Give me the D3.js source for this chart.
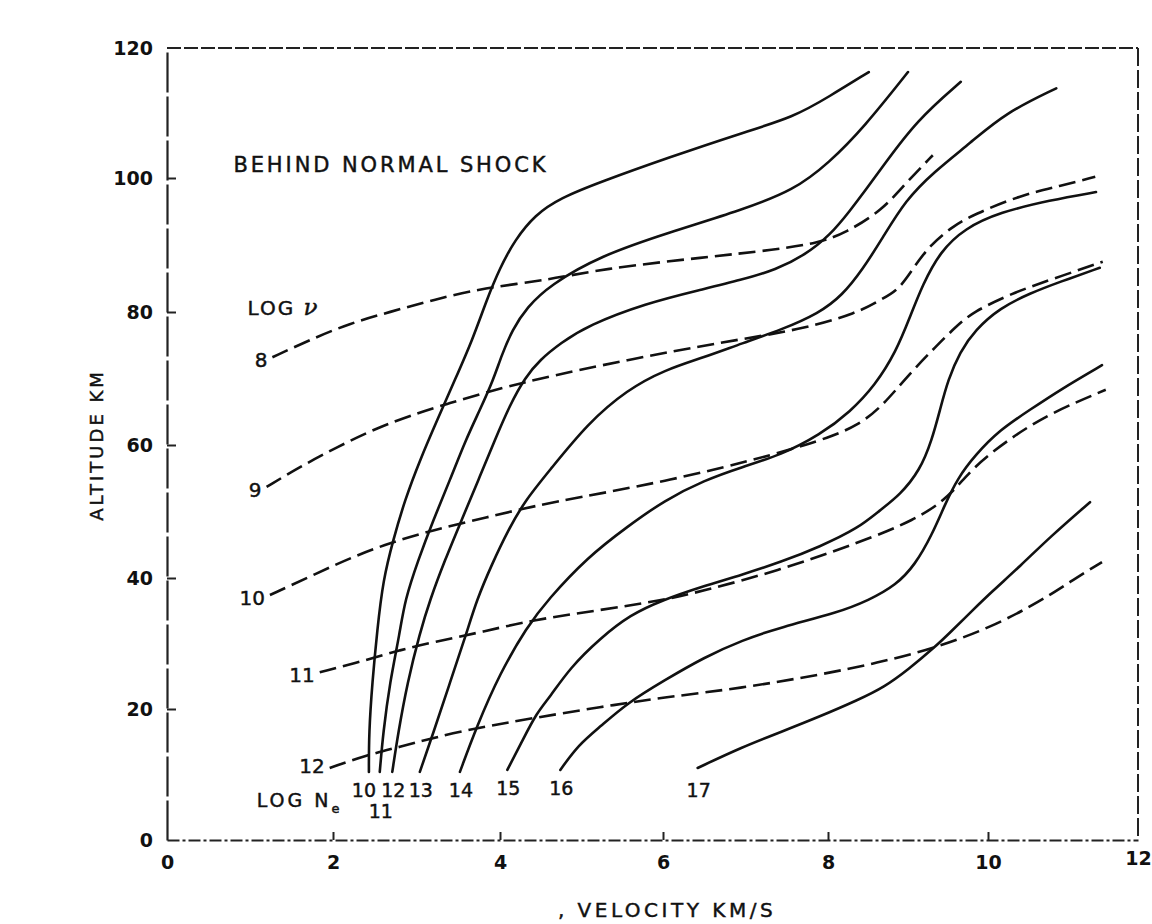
<!DOCTYPE html>
<html>
<head>
<meta charset="utf-8">
<script src="https://cdn.jsdelivr.net/npm/d3@7"></script>
<style>
  body { margin: 0; background: #fff; }
  text { font-family: "DejaVu Sans", sans-serif; fill: #111; }
  .label { stroke: #111; stroke-width: 0.45px; }
</style>
</head>
<body>
<div id="chart"></div>
<script>
// Axis ticks
const velocityTicks = [0, 2, 4, 6, 8, 10, 12];
const velocityLabels = ["0", "2", "4", "6", "8", "10", "12"];
const altitudeTicks = [0, 20, 40, 60, 80, 100, 120];

// Solid curves: log Ne, points are [velocity km/s, altitude km]
const ne10 = [[2.43,10.4],[2.43,16.3],[2.47,24.0],[2.53,32.1],[2.60,39.7],[2.72,45.7],[2.86,51.7],[3.04,57.7],[3.25,63.8],[3.46,69.8],[3.67,75.8],[3.84,81.8],[4.00,86.6],[4.18,90.7],[4.43,94.5],[4.74,97.0],[5.23,99.4],[6.08,103.2],[6.95,106.9],[7.59,109.4],[8.01,112.5],[8.51,116.3]];
const ne11 = [[2.56,10.4],[2.60,16.3],[2.68,24.0],[2.80,31.6],[2.86,36.6],[3.02,42.7],[3.20,48.7],[3.40,54.7],[3.59,60.8],[3.76,65.3],[3.92,69.8],[4.02,73.5],[4.15,77.3],[4.33,80.7],[4.61,84.0],[5.23,88.4],[6.08,91.9],[6.95,95.2],[7.59,98.2],[8.01,102.3],[8.45,107.8],[9.00,116.3]];
const ne12 = [[2.71,10.4],[2.78,16.3],[2.89,24.0],[3.04,31.6],[3.16,36.6],[3.34,42.7],[3.54,48.7],[3.74,54.7],[3.94,60.8],[4.12,66.0],[4.31,70.2],[4.49,72.8],[4.74,75.3],[5.08,78.0],[5.79,81.3],[6.45,83.3],[6.95,84.8],[7.37,86.3],[7.72,88.5],[8.03,91.5],[8.28,95.2],[8.47,98.2],[8.68,101.7],[9.11,108.9],[9.66,114.8]];
const ne13 = [[3.04,10.4],[3.20,16.3],[3.40,24.0],[3.60,31.6],[3.72,36.6],[3.90,42.0],[4.10,47.2],[4.31,51.7],[4.61,56.2],[5.08,63.3],[5.56,68.3],[6.02,71.3],[6.50,73.2],[6.96,75.3],[7.43,77.3],[7.89,79.8],[8.18,82.5],[8.43,86.3],[8.68,91.0],[8.97,96.7],[9.32,100.9],[9.78,105.4],[10.23,110.0],[10.91,113.8]];
const ne14 = [[3.52,10.4],[3.72,17.3],[4.00,25.5],[4.33,32.5],[4.58,36.6],[5.08,43.2],[5.56,47.7],[6.02,51.7],[6.50,54.7],[6.96,56.7],[7.43,58.5],[7.90,61.5],[8.28,65.0],[8.59,69.0],[8.85,74.0],[9.03,79.4],[9.18,84.0],[9.40,89.0],[9.71,92.5],[10.16,94.9],[10.83,96.7],[11.44,97.9]];
const ne15 = [[4.09,10.7],[4.28,15.3],[4.45,19.4],[4.61,21.8],[4.86,26.3],[5.23,30.8],[5.60,34.4],[5.99,36.6],[6.45,38.6],[6.96,40.5],[7.43,42.4],[7.90,44.7],[8.38,47.5],[8.65,50.2],[8.90,52.5],[9.15,56.2],[9.30,60.8],[9.40,65.3],[9.50,69.8],[9.65,74.0],[9.84,77.3],[10.16,80.6],[10.56,82.8],[10.96,84.5],[11.49,86.6]];
const ne16 = [[4.74,10.7],[4.96,14.5],[5.23,17.3],[5.56,20.9],[6.02,24.4],[6.50,27.9],[6.96,30.5],[7.43,32.5],[8.12,34.7],[8.51,36.6],[8.85,38.9],[9.09,42.0],[9.30,46.5],[9.46,51.0],[9.62,55.0],[9.84,58.5],[10.16,62.3],[10.56,65.3],[10.96,68.3],[11.52,72.0]];
const ne17 = [[6.42,11.0],[6.96,14.2],[7.43,16.5],[7.89,18.8],[8.38,21.4],[8.71,23.4],[9.00,26.0],[9.34,29.5],[9.52,31.6],[9.81,35.1],[10.05,37.9],[10.43,41.8],[10.83,46.2],[11.36,51.4]];
const neLevels = ["10", "11", "12", "13", "14", "15", "16", "17"];
const neCurves = [ne10, ne11, ne12, ne13, ne14, ne15, ne16, ne17];

// Dashed curves: log nu
const nu8 = [[1.27,73.2],[1.72,75.8],[2.20,78.3],[2.68,80.0],[3.20,81.8],[3.80,83.6],[4.61,84.8],[5.23,86.4],[6.52,88.2],[7.37,89.3],[7.88,90.3],[8.22,91.8],[8.68,95.2],[8.97,99.2],[9.31,103.5]];
const nu9 = [[1.20,53.7],[1.60,56.7],[2.05,59.7],[2.53,62.6],[3.01,64.8],[3.40,66.3],[3.80,67.8],[4.40,69.8],[5.56,72.8],[6.73,75.5],[7.66,77.3],[8.38,79.9],[8.65,81.8],[8.89,83.3],[9.09,87.0],[9.28,90.0],[9.55,92.7],[9.81,94.5],[10.45,97.5],[10.96,98.8],[11.43,100.2]];
const nu10 = [[1.24,37.4],[1.72,40.2],[2.20,43.0],[2.68,45.3],[3.20,47.2],[3.80,49.0],[4.61,51.4],[6.02,54.4],[7.43,58.8],[8.03,61.2],[8.38,63.0],[8.65,65.6],[8.85,68.3],[9.09,71.6],[9.34,74.7],[9.59,77.7],[9.81,80.0],[10.32,82.8],[10.83,84.8],[11.53,87.5]];
const nu11 = [[1.84,25.6],[2.41,27.5],[2.80,29.0],[3.20,30.2],[3.80,31.8],[4.40,33.6],[5.23,35.1],[5.99,36.6],[6.45,37.9],[7.43,41.2],[8.38,45.3],[9.09,48.7],[9.52,52.2],[9.81,56.7],[10.32,61.2],[10.83,64.8],[11.57,68.3]];
const nu12 = [[1.96,11.0],[2.41,13.0],[2.80,14.2],[3.20,15.6],[3.72,17.1],[4.40,18.6],[5.23,20.3],[6.02,21.8],[6.96,23.2],[7.89,25.2],[8.61,27.0],[9.34,29.3],[10.05,32.5],[10.72,36.6],[11.09,39.4],[11.52,42.4]];
const nuLevels = ["8", "9", "10", "11", "12"];
const nuCurves = [nu8, nu9, nu10, nu11, nu12];

const width = 1152, height = 924;

const svg = d3.select("#chart")
    .append("svg")
    .attr("width", width)
    .attr("height", height);

// The scanned axes are slightly uneven, so the scales follow the printed ticks
const x = d3.scaleLinear().domain(velocityTicks).range([167, 333, 500, 663, 828, 988, 1138]);
const y = d3.scaleLinear().domain(altitudeTicks).range([840, 709, 578, 445, 312, 178, 48]);

// Frame: top and right edges
svg.append("line")
    .attr("x1", x(0)).attr("x2", x(12))
    .attr("y1", y(120)).attr("y2", y(120))
    .attr("stroke", "#222").attr("stroke-width", 2)
    .attr("stroke-dasharray", "14,3");
svg.append("line")
    .attr("x1", x(12)).attr("x2", x(12))
    .attr("y1", y(120)).attr("y2", y(0))
    .attr("stroke", "#222").attr("stroke-width", 2)
    .attr("stroke-dasharray", "18,4");

// X axis
const xAxis = svg.append("g")
    .attr("transform", "translate(0," + y(0) + ")")
    .call(d3.axisBottom(x)
        .tickValues(velocityTicks)
        .tickSize(-8)
        .tickSizeOuter(0)
        .tickPadding(16)
        .tickFormat((d, i) => velocityLabels[i]));
xAxis.select(".domain").attr("stroke", "#222").attr("stroke-width", 2).attr("stroke-dasharray", "12,3,3,3");
xAxis.selectAll(".tick line").attr("stroke", "#222").attr("stroke-width", 2);
xAxis.selectAll(".tick line").filter(d => d === 0 || d === 12).remove();
xAxis.selectAll("text").style("font-size", "19px").style("font-weight", "bold").attr("fill", "#111");
xAxis.selectAll(".tick text").filter(d => d === 12).attr("dy", "0.45em");

// Y axis
const yAxis = svg.append("g")
    .attr("transform", "translate(" + x(0) + ",0)")
    .call(d3.axisLeft(y)
        .tickValues(altitudeTicks)
        .tickSize(-9)
        .tickSizeOuter(0)
        .tickPadding(14));
yAxis.select(".domain").attr("stroke", "#222").attr("stroke-width", 2.2).attr("stroke-dasharray", "40,4");
yAxis.selectAll(".tick line").attr("stroke", "#222").attr("stroke-width", 2);
yAxis.selectAll(".tick line").filter(d => d === 0 || d === 120).remove();
yAxis.selectAll("text").style("font-size", "19px").style("font-weight", "bold").attr("fill", "#111");

// Axis titles
svg.append("text")
    .attr("class", "label")
    .attr("transform", "translate(97," + y(60) + ") rotate(-90)")
    .attr("text-anchor", "middle")
    .attr("dy", "0.35em")
    .style("font-size", "18px")
    .style("letter-spacing", "3px")
    .text("ALTITUDE KM");

svg.append("text")
    .attr("class", "label")
    .attr("x", 667)
    .attr("y", 917)
    .attr("text-anchor", "middle")
    .style("font-size", "20px")
    .style("letter-spacing", "3.5px")
    .text(", VELOCITY KM/S");

// Curves
const line = d3.line()
    .x(d => x(d[0]))
    .y(d => y(d[1]))
    .curve(d3.curveBasis);

svg.selectAll(".ne")
    .data(neCurves)
    .enter().append("path")
    .attr("class", "ne")
    .attr("fill", "none")
    .attr("stroke", "#111")
    .attr("stroke-width", 2.6)
    .attr("stroke-linecap", "round")
    .attr("d", line);

svg.selectAll(".nu")
    .data(nuCurves)
    .enter().append("path")
    .attr("class", "nu")
    .attr("fill", "none")
    .attr("stroke", "#111")
    .attr("stroke-width", 2.6)
    .attr("stroke-dasharray", "17,7")
    .attr("d", line);

// Curve labels
svg.selectAll(".ne-label")
    .data(neCurves)
    .enter().append("text")
    .attr("class", "ne-label label")
    .attr("x", (d, i) => x(d[0][0]) + (i === 0 ? -5 : 1))
    .attr("y", (d, i) => y(d[0][1]) + (i === 1 ? 46 : i === 7 ? 29 : 25))
    .attr("text-anchor", "middle")
    .style("font-size", "19px")
    .text((d, i) => neLevels[i]);

svg.selectAll(".nu-label")
    .data(nuCurves)
    .enter().append("text")
    .attr("class", "nu-label label")
    .attr("x", d => x(d[0][0]) - 5)
    .attr("y", (d, i) => y(d[0][1]) + (i === 4 ? 5 : 10))
    .attr("text-anchor", "end")
    .style("font-size", "20px")
    .text((d, i) => nuLevels[i]);

// Annotations
svg.append("text")
    .attr("class", "label")
    .attr("x", x(0.8))
    .attr("y", y(101))
    .style("font-size", "21px")
    .style("letter-spacing", "2.9px")
    .text("BEHIND NORMAL SHOCK");

const nuTitle = svg.append("text")
    .attr("class", "label")
    .attr("x", x(0.97))
    .attr("y", y(79.6))
    .style("font-size", "20px")
    .style("letter-spacing", "2px");
nuTitle.append("tspan").text("LOG ");
nuTitle.append("tspan")
    .style("font-family", "'DejaVu Serif', serif")
    .style("font-style", "italic")
    .style("font-size", "23px")
    .text("ν");

const neTitle = svg.append("text")
    .attr("class", "label")
    .attr("x", x(1.08))
    .attr("y", y(5.0))
    .style("font-size", "19px")
    .style("letter-spacing", "3px");
neTitle.append("tspan").text("LOG N");
neTitle.append("tspan")
    .attr("dy", 6)
    .style("font-size", "13px")
    .text("e");
</script>
</body>
</html>
